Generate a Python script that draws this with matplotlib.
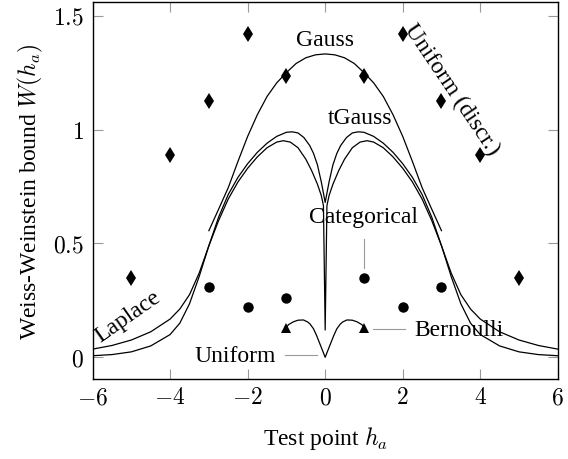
import matplotlib
matplotlib.use("Agg")
import matplotlib.pyplot as plt

plt.rcParams["font.family"] = ["Liberation Serif", "DejaVu Serif"]
plt.rcParams["mathtext.fontset"] = "cm"

# Uniform (discr.) -- diamonds
disc_x = [-5, -4, -3, -2, -1, 1, 2, 3, 4, 5]
disc_y = [0.35, 0.89, 1.125, 1.42, 1.237, 1.237, 1.42, 1.125, 0.89, 0.35]

# Categorical -- circles
cat_x = [-3, -2, -1, 1, 2, 3]
cat_y = [0.31, 0.222, 0.26, 0.347, 0.222, 0.31]

# Bernoulli -- triangles
bern_x = [-1, 1]
bern_y = [0.128, 0.128]

# Gauss curve
gauss_x = [-3.0, -2.75, -2.5, -2.25, -2.0, -1.75, -1.5, -1.25, -1.0, -0.75, -0.5, -0.25, 0.0,
           0.25, 0.5, 0.75, 1.0, 1.25, 1.5, 1.75, 2.0, 2.25, 2.5, 2.75, 3.0]
gauss_y = [0.556, 0.65, 0.745, 0.86, 0.97, 1.065, 1.145, 1.205, 1.25, 1.29, 1.315, 1.328, 1.332,
           1.328, 1.315, 1.29, 1.25, 1.205, 1.145, 1.065, 0.97, 0.86, 0.745, 0.65, 0.556]

# tGauss curve
tg_x = [-6, -5.5, -5, -4.5, -4, -3.75, -3.5, -3.25, -3, -2.75, -2.5, -2.25, -2, -1.75, -1.5,
        -1.25, -1.0, -0.85, -0.7, -0.55, -0.4, -0.3, -0.2, -0.1, -0.05, 0,
        0.05, 0.1, 0.2, 0.3, 0.4, 0.55, 0.7, 0.85, 1.0, 1.25, 1.5, 1.75, 2, 2.25, 2.5, 2.75,
        3, 3.25, 3.5, 3.75, 4, 4.5, 5, 5.5, 6]
tg_y = [0.007, 0.012, 0.024, 0.05, 0.1, 0.15, 0.235, 0.355, 0.49, 0.615, 0.715, 0.79, 0.85, 0.90,
        0.94, 0.97, 0.988, 0.99, 0.985, 0.965, 0.93, 0.895, 0.845, 0.77, 0.725, 0.68,
        0.725, 0.77, 0.845, 0.895, 0.93, 0.965, 0.985, 0.99, 0.988, 0.97, 0.94, 0.90, 0.85, 0.79,
        0.715, 0.615, 0.49, 0.355, 0.235, 0.15, 0.1, 0.05, 0.024, 0.012, 0.007]

# Laplace curve
lap_x = [-6, -5.5, -5, -4.5, -4, -3.75, -3.5, -3.25, -3, -2.75, -2.5, -2.25, -2, -1.75, -1.5,
         -1.25, -1.08, -0.9, -0.7, -0.5, -0.35, -0.2, -0.1, -0.045, 0,
         0.045, 0.1, 0.2, 0.35, 0.5, 0.7, 0.9, 1.08, 1.25, 1.5, 1.75, 2, 2.25, 2.5, 2.75,
         3, 3.25, 3.5, 3.75, 4, 4.5, 5, 5.5, 6]
lap_y = [0.036, 0.052, 0.076, 0.112, 0.168, 0.212, 0.275, 0.37, 0.49, 0.6, 0.695, 0.77, 0.83, 0.88,
         0.92, 0.945, 0.951, 0.945, 0.92, 0.87, 0.82, 0.76, 0.71, 0.666, 0.12,
         0.666, 0.71, 0.76, 0.82, 0.87, 0.92, 0.945, 0.951, 0.945, 0.92, 0.88, 0.83, 0.77,
         0.695, 0.6, 0.49, 0.37, 0.275, 0.212, 0.168, 0.112, 0.076, 0.052, 0.036]

# Uniform curve
uni_x = [-1.0, -0.95, -0.82, -0.7, -0.56, -0.45, -0.39, -0.3, -0.22, -0.15, -0.08, 0.0,
         0.08, 0.15, 0.22, 0.3, 0.39, 0.45, 0.56, 0.7, 0.82, 0.95, 1.0]
uni_y = [0.13, 0.143, 0.156, 0.163, 0.164, 0.155, 0.146, 0.125, 0.095, 0.065, 0.035, 0.0,
         0.035, 0.065, 0.095, 0.125, 0.146, 0.155, 0.164, 0.163, 0.156, 0.143, 0.13]

x_ticks = [-6, -4, -2, 0, 2, 4, 6]
y_ticks = [0, 0.5, 1, 1.5]
y_tick_labels = ["0", "0.5", "1", "1.5"]

fig = plt.figure(figsize=(5.68, 4.6), dpi=100)
ax = fig.add_axes([0.163, 0.174, 0.819, 0.8195])

lw = 0.9
ax.plot(gauss_x, gauss_y, color="black", lw=lw)
ax.plot(tg_x, tg_y, color="black", lw=lw)
ax.plot(lap_x, lap_y, color="black", lw=lw)
ax.plot(uni_x, uni_y, color="black", lw=lw)

ax.plot(disc_x, disc_y, "d", color="black", ms=8, mew=0)
ax.plot(cat_x, cat_y, "o", color="black", ms=7.5, mew=0)
ax.plot(bern_x, bern_y, "^", color="black", ms=7, mew=0)

fs = 17
ax.text(0, 1.395, "Gauss", fontsize=fs, ha="center", va="center")
ax.text(0.9, 1.055, "tGauss", fontsize=fs, ha="center", va="center")
ax.text(3.27, 1.18, "Uniform (discr.)", fontsize=fs, ha="center", va="center",
        rotation=-56, rotation_mode="anchor")
ax.text(0.985, 0.62, "Categorical", fontsize=fs, ha="center", va="center")
ax.plot([1.0, 1.0], [0.39, 0.52], color="#999999", lw=0.8)
ax.text(3.44, 0.124, "Bernoulli", fontsize=fs, ha="center", va="center")
ax.plot([1.24, 2.06], [0.125, 0.125], color="#999999", lw=0.8)
ax.text(-2.32, 0.007, "Uniform", fontsize=fs, ha="center", va="center")
ax.plot([-1.04, -0.22], [0.01, 0.01], color="#999999", lw=0.8)
ax.text(-5.08, 0.18, "Laplace", fontsize=fs, ha="center", va="center",
        rotation=35, rotation_mode="anchor")

ax.set_xlim(-6, 6)
ax.set_ylim(-0.095, 1.56)
ax.set_xticks(x_ticks)
ax.set_xticklabels([f"${v}$" for v in x_ticks])
ax.set_yticks(y_ticks)
ax.set_yticklabels([f"${v}$" for v in y_tick_labels])
ax.tick_params(direction="in", top=True, right=True, length=7, width=0.8,
               color="#999999", labelsize=fs, pad=6)
for s in ax.spines.values():
    s.set_linewidth(1.0)

ax.set_xlabel("Test point $h_a$", fontsize=fs, labelpad=11)
ax.set_ylabel("Weiss-Weinstein bound $W(h_a)$", fontsize=fs, labelpad=6)

fig.savefig("out.png", dpi=100)
